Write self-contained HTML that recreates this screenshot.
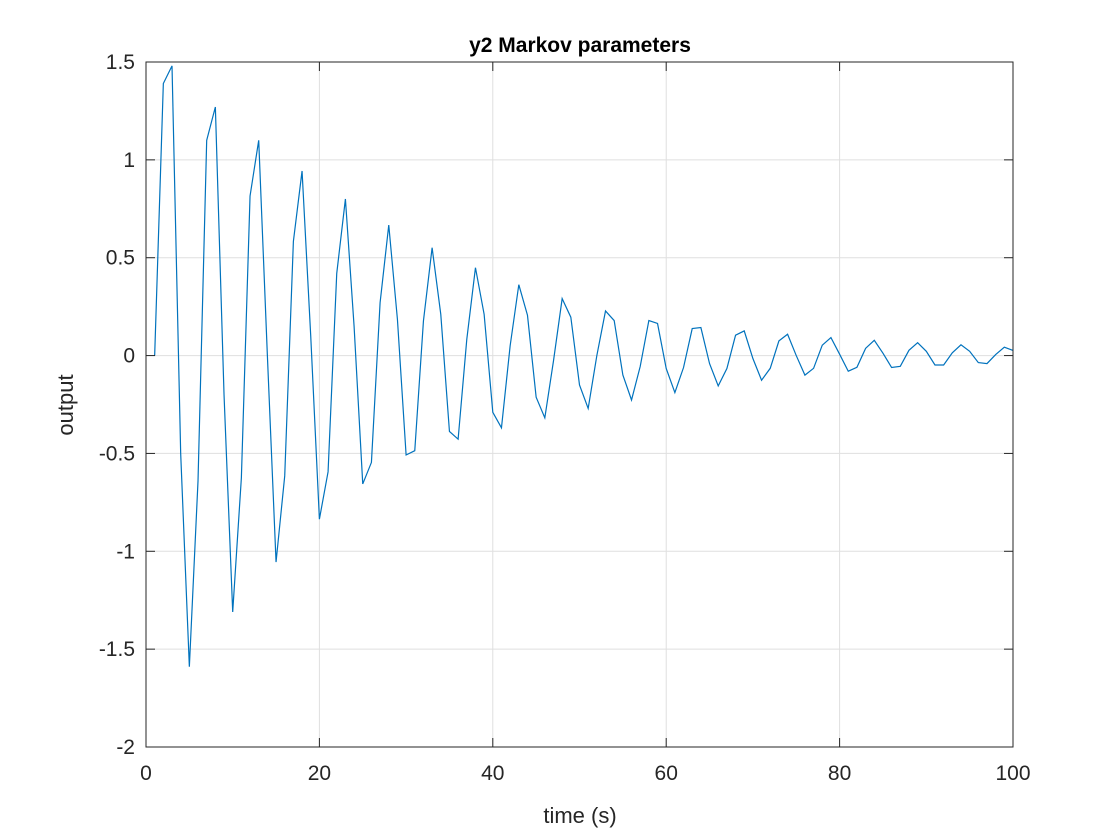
<!DOCTYPE html>
<html><head><meta charset="utf-8"><style>
body{margin:0;background:#fff}
svg{display:block;font-family:"Liberation Sans",Arial,sans-serif}
</style></head><body>
<svg id="chart" width="1120" height="840">
<rect x="0" y="0" width="1120" height="840" fill="#fff"/>
<g id="grid"></g>
<g id="series"></g>
<g id="axes"></g>
<text x="580" y="52" text-anchor="middle" font-size="21" font-weight="bold" fill="#000">y2 Markov parameters</text>
<text x="580" y="823" text-anchor="middle" font-size="22" fill="#262626">time (s)</text>
<text transform="translate(73,405) rotate(-90)" text-anchor="middle" font-size="22" fill="#262626">output</text>
</svg>
<script>
const xTicks=[0,20,40,60,80,100];
const yTicks=[-2,-1.5,-1,-0.5,0,0.5,1,1.5];
const yTickLabels=["-2","-1.5","-1","-0.5","0","0.5","1","1.5"];
const times=[];for(let i=1;i<=100;i++)times.push(i);
const output=[0,1.39,1.48,-0.5,-1.59,-0.64,1.10,1.27,-0.2,-1.31,
-0.625,0.815,1.10,0.0,-1.055,-0.615,0.584,0.943,0.1,-0.836,
-0.594,0.42,0.80,0.15,-0.656,-0.546,0.27,0.667,0.185,-0.508,
-0.486,0.177,0.551,0.211,-0.388,-0.427,0.083,0.449,0.211,-0.29,
-0.369,0.05,0.362,0.206,-0.213,-0.318,-0.027,0.291,0.196,-0.15,
-0.27,0.0,0.228,0.179,-0.099,-0.227,-0.056,0.179,0.164,-0.066,
-0.189,-0.061,0.138,0.143,-0.041,-0.155,-0.066,0.104,0.126,-0.015,
-0.126,-0.065,0.075,0.109,0.0,-0.10,-0.065,0.053,0.092,0.007,
-0.08,-0.06,0.037,0.078,0.012,-0.061,-0.055,0.027,0.066,0.022,
-0.048,-0.048,0.014,0.055,0.022,-0.036,-0.041,0.005,0.043,0.026];
const L=146,R=1013,T=62,B=747;
const xs=v=>L+(v-0)/(100-0)*(R-L);
const ys=v=>B-(v+2)/(3.5)*(B-T);
const NS="http://www.w3.org/2000/svg";
function mk(tag,attrs,parent){const e=document.createElementNS(NS,tag);for(const k in attrs)e.setAttribute(k,attrs[k]);parent.appendChild(e);return e;}
const grid=document.getElementById('grid'),axes=document.getElementById('axes'),ser=document.getElementById('series');
xTicks.forEach(t=>{
 const g=mk('line',{x1:xs(t),x2:xs(t),y1:T,y2:B,stroke:'#dfdfdf','stroke-width':1},grid);
 
 
 const tk=mk('line',{x1:xs(t),x2:xs(t),y1:B,y2:B-9,stroke:'#262626','stroke-width':1},axes);
 
 
 const tk2=mk('line',{x1:xs(t),x2:xs(t),y1:T,y2:T+9,stroke:'#262626','stroke-width':1},axes);
 
 
 const tx=mk('text',{x:xs(t),y:B+33,'text-anchor':'middle','font-size':21,fill:'#262626'},axes);
 tx.textContent=String(t);
 
 
});
yTicks.forEach((t,i)=>{
 const g=mk('line',{x1:L,x2:R,y1:ys(t),y2:ys(t),stroke:'#dfdfdf','stroke-width':1},grid);
 
 
 const tk=mk('line',{x1:L,x2:L+9,y1:ys(t),y2:ys(t),stroke:'#262626','stroke-width':1},axes);
 
 
 const tk2=mk('line',{x1:R,x2:R-9,y1:ys(t),y2:ys(t),stroke:'#262626','stroke-width':1},axes);
 
 
 const tx=mk('text',{x:L-11,y:ys(t)+7,'text-anchor':'end','font-size':21,fill:'#262626'},axes);
 tx.textContent=yTickLabels[i];
 
 
});
const box=mk('rect',{x:L,y:T,width:R-L,height:B-T,fill:'none',stroke:'#262626','stroke-width':1},axes);


const pts=times.map((t,i)=>xs(t).toFixed(2)+','+ys(output[i]).toFixed(2)).join(' ');
const pl=mk('polyline',{points:pts,fill:'none',stroke:'#0072bd','stroke-width':1.2,'stroke-linejoin':'miter'},ser);


</script>
</body></html>
